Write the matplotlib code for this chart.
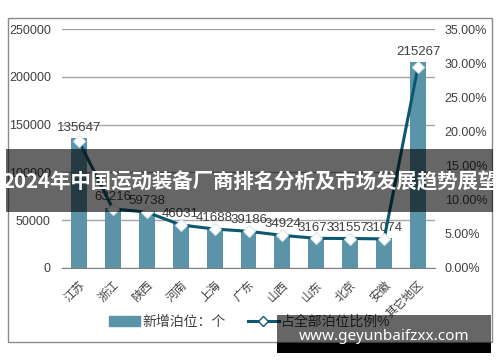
import matplotlib
matplotlib.use("Agg")
import matplotlib.pyplot as plt
from matplotlib.patches import Rectangle
from matplotlib.lines import Line2D
from matplotlib.patches import Patch

plt.rcParams['font.family'] = ['Liberation Sans', 'Noto Sans CJK SC', 'DejaVu Sans']

categories = ["江苏", "浙江", "陕西", "河南", "上海", "广东", "山西", "山东", "北京", "安徽", "其它地区"]
berths = [135647, 63216, 59738, 46031, 41688, 39186, 34924, 31673, 31557, 31074, 215267]
share_pct = [18.58, 8.66, 8.18, 6.31, 5.71, 5.37, 4.78, 4.34, 4.32, 4.26, 29.49]
left_ticks = [0, 50000, 100000, 150000, 200000, 250000]
right_ticks = [0, 5, 10, 15, 20, 25, 30, 35]

BAR = "#5b93a8"
LINE = "#0b5870"
TXT = "#404040"

W, H = 500, 362
fig = plt.figure(figsize=(5, 3.62), dpi=100)

def fx(px):
    return px / W

def fy(py):
    return 1 - py / H

ax = fig.add_axes([fx(62), fy(268), fx(435) - fx(62), fy(29) - fy(268)])
x = list(range(len(categories)))
bars = ax.bar(x, berths, width=0.47, color=BAR, zorder=2)
ax.set_xlim(-0.5, len(categories) - 0.5)
ax.set_ylim(0, 250000)
ax.set_yticks(left_ticks)
ax.set_yticklabels([str(v) for v in left_ticks], fontsize=9, color=TXT)
ax.yaxis.grid(True, color="#a6a6a6", lw=1, zorder=0)
for s in ["top", "left", "right"]:
    ax.spines[s].set_visible(False)
ax.spines["bottom"].set_color("#808080")
ax.tick_params(axis="y", length=0, pad=8)
ax.tick_params(axis="x", length=0, pad=8)
ax.set_xticks(x)
ax.set_xticklabels(categories, rotation=45, ha="right", rotation_mode="anchor",
                   fontsize=8.5, color=TXT)
ax.bar_label(bars, labels=[str(v) for v in berths], padding=3, fontsize=9.5, color=TXT)

ax2 = ax.twinx()
ax2.set_ylim(0, 35)
ax2.set_yticks(right_ticks)
ax2.set_yticklabels(["%.2f%%" % v for v in right_ticks], fontsize=9, color=TXT)
ax2.tick_params(axis="y", length=0, pad=7)
for s in ["top", "left", "right", "bottom"]:
    ax2.spines[s].set_visible(False)
ax2.plot(x, share_pct, color=LINE, lw=2.2, marker="D", markersize=6.5,
         markerfacecolor="white", markeredgecolor="#d8e6ec", markeredgewidth=0.8, zorder=3)

handles = [Patch(facecolor=BAR, edgecolor=BAR),
           Line2D([0], [0], color=LINE, lw=2.2, marker="D", markersize=5.5,
                  markerfacecolor="white", markeredgecolor=LINE, markeredgewidth=1)]
fig.legend(handles, ["新增泊位：个", "占全部泊位比例%"], loc="center",
           bbox_to_anchor=(fx(250), fy(322)), ncol=2, frameon=False,
           fontsize=10, handlelength=2.2, handleheight=0.8, columnspacing=1.6,
           handletextpad=0.2, labelcolor=TXT)

# chart frame
fig.patches.append(Rectangle((fx(8), fy(342)), fx(492) - fx(8), fy(18) - fy(342),
                             transform=fig.transFigure, fill=False, edgecolor="#8c8c8c",
                             lw=1, zorder=1))

# title banner overlay
fig.patches.append(Rectangle((fx(6), fy(212)), fx(493) - fx(6), fy(149) - fy(212),
                             transform=fig.transFigure, facecolor="black", alpha=0.6,
                             edgecolor="none", zorder=10))
fig.text(fx(250), fy(182), "2024年中国运动装备厂商排名分析及市场发展趋势展望",
         ha="center", va="center", color="white", fontsize=14.7, fontweight="bold",
         family=["Noto Sans CJK SC", "DejaVu Sans"], zorder=11)

# url banner overlay
fig.patches.append(Rectangle((fx(277), fy(343)), fx(491) - fx(277), fy(315) - fy(343),
                             transform=fig.transFigure, facecolor="black", alpha=0.6,
                             edgecolor="none", zorder=10))
fig.patches.append(Rectangle((fx(277), fy(353)), fx(491) - fx(277), fy(343) - fy(353),
                             transform=fig.transFigure, facecolor="black",
                             edgecolor="none", zorder=10))
fig.text(fx(384), fy(336), "www.geyunbaifzxx.com", ha="center", va="center",
         color="white", fontsize=11, fontweight="bold", family=["Noto Sans", "DejaVu Sans"],
         zorder=11)

fig.savefig("out.png", dpi=100)
